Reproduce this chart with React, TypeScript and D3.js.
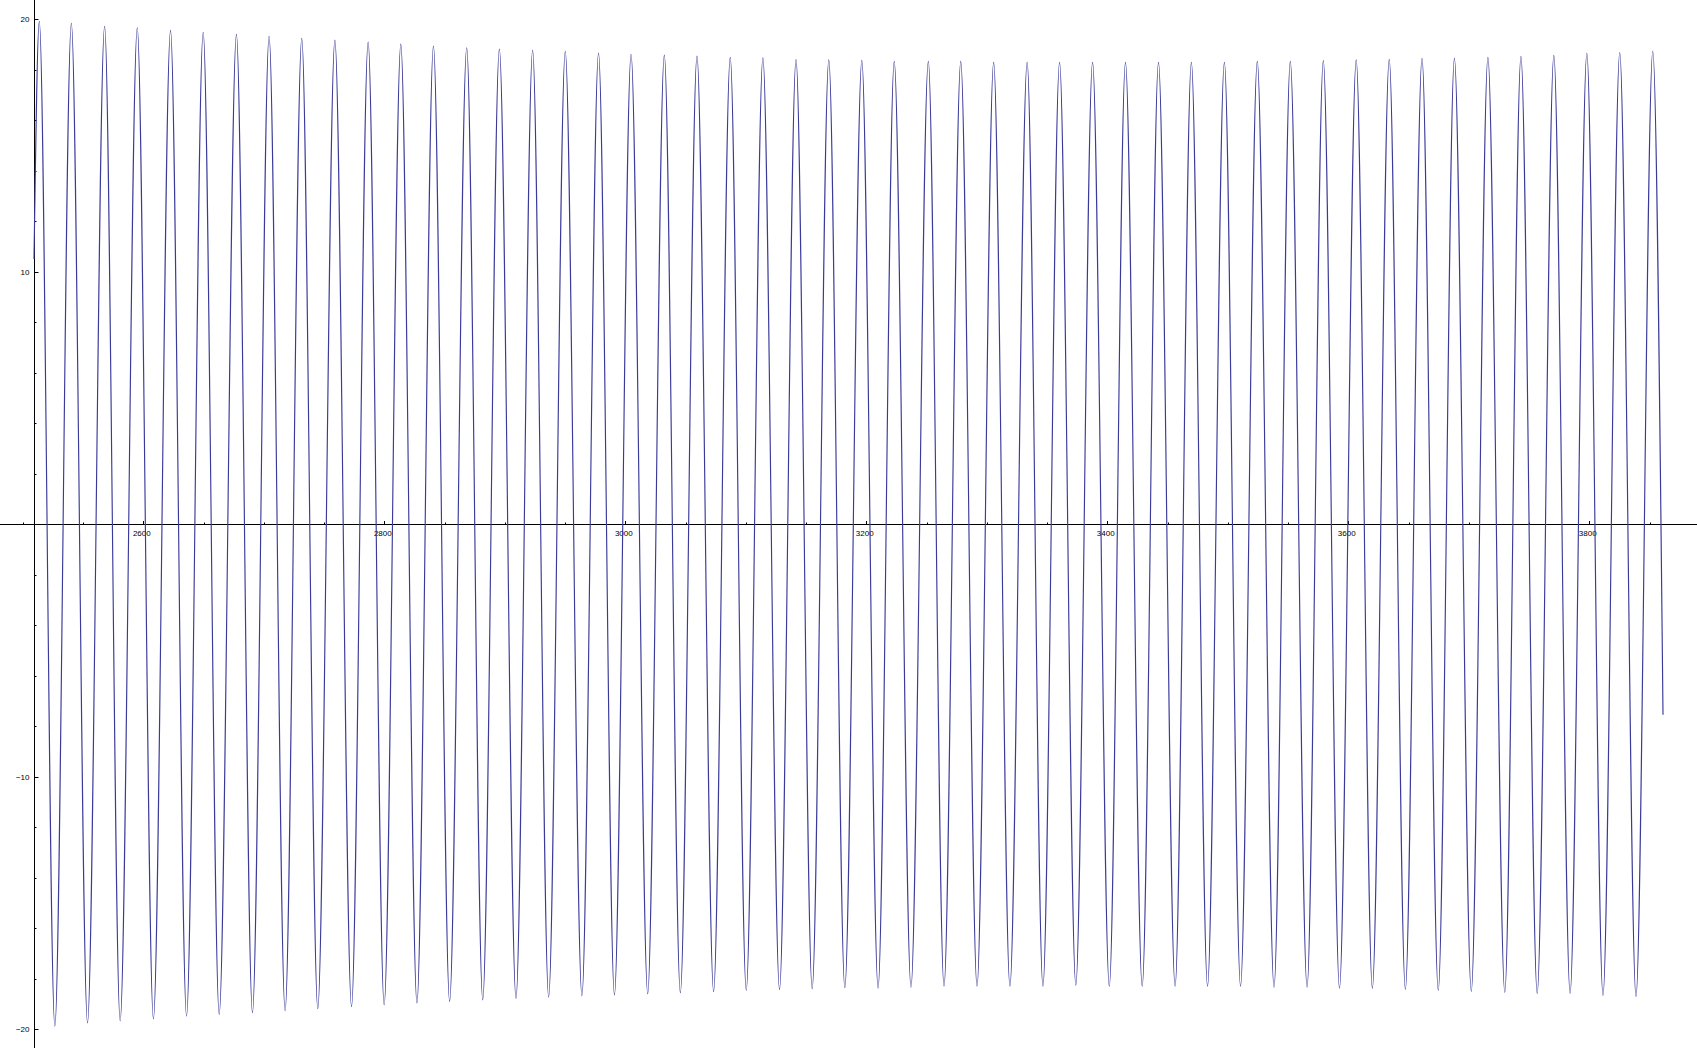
import React from "react";
import * as d3 from "d3";

// ---- Data ----
const startPoint = { x: 2509.3, y: 10.5 };
const endPoint = { x: 3861.2, y: -7.55 };

const peakX = [
  2513.7, 2540.3, 2567.9, 2595.0, 2622.6, 2649.7, 2677.3, 2704.4, 2731.5, 2759.0,
  2786.6, 2813.7, 2840.8, 2868.4, 2895.5, 2923.1, 2950.2, 2977.8, 3004.8, 3032.4,
  3059.5, 3087.1, 3114.2, 3141.7, 3168.9, 3196.3, 3223.2, 3251.5, 3278.4, 3305.7,
  3333.5, 3360.4, 3387.8, 3415.1, 3442.5, 3469.8, 3497.2, 3524.5, 3551.9, 3579.3,
  3606.6, 3634.0, 3661.2, 3688.1, 3715.9, 3743.3, 3770.6, 3798.0, 3825.3, 3852.7,
];
const peakY = [
  19.92, 19.84, 19.72, 19.66, 19.56, 19.48, 19.4, 19.32, 19.24, 19.17,
  19.09, 19.01, 18.94, 18.87, 18.82, 18.77, 18.73, 18.66, 18.61, 18.58,
  18.54, 18.49, 18.47, 18.4, 18.39, 18.37, 18.33, 18.33, 18.33, 18.29,
  18.29, 18.29, 18.29, 18.29, 18.29, 18.29, 18.29, 18.33, 18.33, 18.36,
  18.39, 18.41, 18.45, 18.45, 18.49, 18.53, 18.57, 18.65, 18.68, 18.73,
];
const troughX = [
  2526.6, 2553.7, 2580.8, 2608.4, 2635.9, 2663.0, 2690.6, 2717.7, 2744.8, 2772.8,
  2799.9, 2827.1, 2854.2, 2881.7, 2909.3, 2936.4, 2964.0, 2991.0, 3018.6, 3045.7,
  3073.3, 3100.4, 3128.0, 3155.1, 3182.2, 3209.8, 3237.1, 3264.5, 3291.9, 3319.2,
  3346.6, 3373.9, 3401.7, 3429.0, 3456.3, 3483.2, 3510.6, 3538.4, 3565.8, 3592.7,
  3620.0, 3647.4, 3674.7, 3702.1, 3729.9, 3756.8, 3784.1, 3811.4, 3838.8,
];
const troughY = [
  -19.88, -19.75, -19.67, -19.59, -19.48, -19.41, -19.35, -19.27, -19.19, -19.11,
  -19.04, -18.96, -18.9, -18.84, -18.78, -18.73, -18.68, -18.64, -18.6, -18.56,
  -18.51, -18.46, -18.43, -18.4, -18.36, -18.38, -18.34, -18.3, -18.3, -18.3,
  -18.3, -18.26, -18.3, -18.3, -18.3, -18.3, -18.3, -18.34, -18.34, -18.38,
  -18.38, -18.42, -18.46, -18.5, -18.54, -18.58, -18.58, -18.66, -18.7,
];

const xMajorTicks = [2600, 2800, 3000, 3200, 3400, 3600, 3800];
const xMinorStep = 50;
const xMinorRange = [2500, 3850];
const yMajorTicks = [-20, -10, 10, 20];
const yMinorStep = 2;

const W = 1697;
const H = 1048;

export default function App() {
  const x = d3.scaleLinear().domain([startPoint.x, endPoint.x]).range([34, 1663]);
  const y = d3.scaleLinear().domain([-20, 20]).range([1029.2, 19.2]);

  const pts: { x: number; y: number }[] = [startPoint];
  for (let i = 0; i < peakX.length; i++) {
    pts.push({ x: peakX[i], y: peakY[i] });
    if (i < troughX.length) pts.push({ x: troughX[i], y: troughY[i] });
  }
  pts.push(endPoint);

  const line = d3
    .line<{ x: number; y: number }>()
    .x((d) => x(d.x))
    .y((d) => y(d.y))
    .curve(d3.curveMonotoneX);

  const ax = Math.round(x(startPoint.x)) + 0.5; // y axis position
  const ay = Math.round(y(0)) + 0.5; // x axis position

  const xMinor: number[] = [];
  for (let v = xMinorRange[0]; v <= xMinorRange[1]; v += xMinorStep) {
    if (!xMajorTicks.includes(v)) xMinor.push(v);
  }
  const yMinor: number[] = [];
  for (let v = -20; v <= 20; v += yMinorStep) {
    if (!yMajorTicks.includes(v) && v !== 0) yMinor.push(v);
  }

  const fmt = (v: number) => (v < 0 ? "\u2212" + Math.abs(v) : String(v));
  const font = "'Liberation Sans', Arial, sans-serif";

  return (
    <>
      <style>{"body{margin:0;}"}</style>
      <svg width={W} height={H} style={{ display: "block", background: "#fff" }}>
        {/* axes */}
        <line x1={0} x2={W} y1={ay} y2={ay} stroke="#000" strokeWidth={1} />
        <line x1={ax} x2={ax} y1={0} y2={H} stroke="#000" strokeWidth={1} />
        {/* x ticks */}
        {xMajorTicks.map((v) => (
          <g key={"xm" + v}>
            <line x1={Math.round(x(v)) + 0.5} x2={Math.round(x(v)) + 0.5} y1={ay} y2={ay - 3.5} stroke="#000" strokeWidth={1} />
            <text x={x(v) - 1.5} y={ay + 11} fontSize={8} fontFamily={font} textAnchor="middle" fill="#000">
              {v}
            </text>
          </g>
        ))}
        {xMinor.map((v) => (
          <line key={"xn" + v} x1={Math.round(x(v)) + 0.5} x2={Math.round(x(v)) + 0.5} y1={ay} y2={ay - 2} stroke="#000" strokeWidth={1} />
        ))}
        {/* y ticks */}
        {yMajorTicks.map((v) => (
          <g key={"ym" + v}>
            <line x1={ax} x2={ax + 4} y1={Math.round(y(v)) + 0.5} y2={Math.round(y(v)) + 0.5} stroke="#000" strokeWidth={1} />
            <text x={ax - 5} y={y(v) + 3} fontSize={8} fontFamily={font} textAnchor="end" fill="#000">
              {fmt(v)}
            </text>
          </g>
        ))}
        {yMinor.map((v) => (
          <line key={"yn" + v} x1={ax} x2={ax + 2} y1={Math.round(y(v)) + 0.5} y2={Math.round(y(v)) + 0.5} stroke="#000" strokeWidth={1} />
        ))}
        {/* curve */}
        <path d={line(pts) || ""} fill="none" stroke="#3a3a99" strokeWidth={1.15} />
      </svg>
    </>
  );
}
